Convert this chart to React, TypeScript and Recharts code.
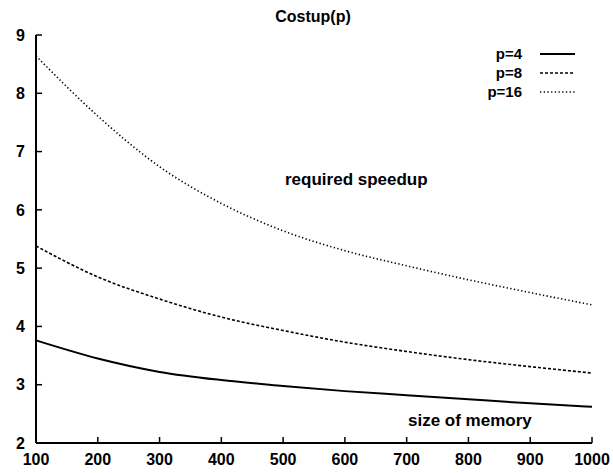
import React from "react";
import { LineChart, Line, XAxis, YAxis } from "recharts";

const memorySizes = [100, 200, 300, 400, 500, 600, 700, 800, 900, 1000];
const p4 = [3.76, 3.45, 3.22, 3.08, 2.98, 2.89, 2.82, 2.75, 2.68, 2.62];
const p8 = [5.38, 4.85, 4.47, 4.16, 3.93, 3.73, 3.57, 3.43, 3.31, 3.2];
const p16 = [8.64, 7.61, 6.74, 6.11, 5.64, 5.3, 5.04, 4.8, 4.58, 4.37];
const xTicks = [100, 200, 300, 400, 500, 600, 700, 800, 900, 1000];
const yTicks = [2, 3, 4, 5, 6, 7, 8, 9];

const seriesDefs = [
  { key: "p4", name: "p=4", dash: undefined as string | undefined, width: 2 },
  { key: "p8", name: "p=8", dash: "3 2", width: 1.6 },
  { key: "p16", name: "p=16", dash: "1.3 2.4", width: 1.6 },
];

const data = memorySizes.map((x, i) => ({ x, p4: p4[i], p8: p8[i], p16: p16[i] }));

const FONT = '"Liberation Sans", Arial, Helvetica, sans-serif';
const tickStyle = { fill: "#000", fontSize: 16, fontWeight: "bold", fontFamily: FONT };
const axisLine = { stroke: "#000", strokeWidth: 2 };
const tickLine = { stroke: "#000", strokeWidth: 1.5 };

export default function App() {
  return (
    <div style={{ position: "fixed", left: 0, top: 0, width: 613, height: 473, background: "#fff", fontFamily: FONT, overflow: "hidden" }}>
      <LineChart width={613} height={473} data={data} margin={{ top: 35, right: 21, bottom: 0, left: 0 }}>
        <XAxis
          dataKey="x"
          type="number"
          domain={[100, 1000]}
          ticks={xTicks}
          height={30}
          tick={tickStyle}
          tickSize={-6}
          tickMargin={17}
          axisLine={axisLine}
          tickLine={tickLine}
          interval={0}
        />
        <XAxis
          xAxisId="top"
          dataKey="x"
          type="number"
          orientation="top"
          domain={[100, 1000]}
          ticks={xTicks}
          height={0}
          tick={false}
          tickSize={-6}
          axisLine={axisLine}
          tickLine={tickLine}
          interval={0}
        />
        <YAxis
          type="number"
          domain={[2, 9]}
          ticks={yTicks}
          width={36}
          tick={tickStyle}
          tickSize={-6}
          tickMargin={17}
          axisLine={axisLine}
          tickLine={tickLine}
          interval={0}
        />
        <YAxis
          yAxisId="right"
          type="number"
          orientation="right"
          domain={[2, 9]}
          ticks={yTicks}
          width={0}
          tick={false}
          tickSize={-6}
          axisLine={axisLine}
          tickLine={tickLine}
          interval={0}
        />
        {seriesDefs.map((s) => (
          <Line
            key={s.key}
            dataKey={s.key}
            name={s.name}
            type="monotone"
            stroke="#000"
            strokeWidth={s.width}
            strokeDasharray={s.dash}
            dot={false}
            isAnimationActive={false}
          />
        ))}
      </LineChart>
      <div style={{ position: "absolute", left: 0, width: 626, top: 8, textAlign: "center", fontSize: 16, fontWeight: "bold", lineHeight: "18px" }}>
        Costup(p)
      </div>
      <div style={{ position: "absolute", left: 285, top: 170, fontSize: 17, fontWeight: "bold", lineHeight: "20px", whiteSpace: "nowrap" }}>
        required speedup
      </div>
      <div style={{ position: "absolute", left: 408, top: 411, fontSize: 17, fontWeight: "bold", lineHeight: "20px", whiteSpace: "nowrap" }}>
        size of memory
      </div>
      <div style={{ position: "absolute", right: 613 - 575, top: 44 }}>
        {seriesDefs.map((s) => (
          <div key={s.key} style={{ display: "flex", alignItems: "center", justifyContent: "flex-end", height: 19 }}>
            <span style={{ fontSize: 15, fontWeight: "bold", lineHeight: "19px", marginRight: 18 }}>{s.name}</span>
            <svg width={35} height={4}>
              <line x1={0} x2={35} y1={2} y2={2} stroke="#000" strokeWidth={s.width} strokeDasharray={s.dash} />
            </svg>
          </div>
        ))}
      </div>
    </div>
  );
}
